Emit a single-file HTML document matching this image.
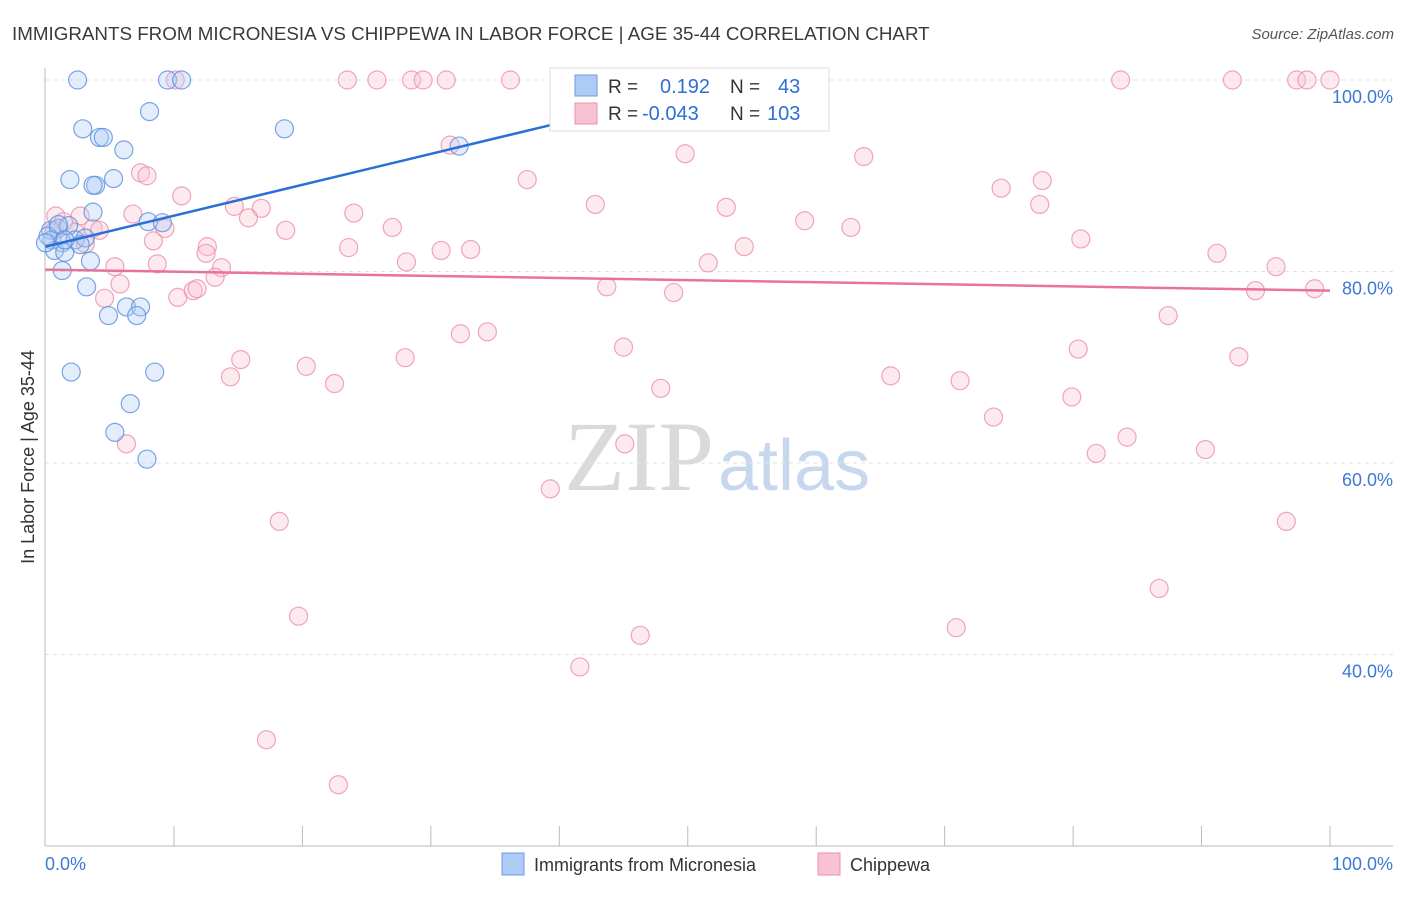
<!DOCTYPE html>
<html><head><meta charset="utf-8"><style>
body{margin:0;background:#fff;font-family:"Liberation Sans",sans-serif}
svg text{font-family:"Liberation Sans",sans-serif}
</style></head><body>
<svg id="chart" width="1406" height="892" xmlns="http://www.w3.org/2000/svg">
<text x="12" y="40" font-size="18.8" fill="#3a3a3a">IMMIGRANTS FROM MICRONESIA VS CHIPPEWA IN LABOR FORCE | AGE 35-44 CORRELATION CHART</text>
<text x="1394" y="39" font-size="15" fill="#555" text-anchor="end" font-style="italic">Source: ZipAtlas.com</text>
<g>
<text x="714" y="490" font-size="100" fill="#dadada" text-anchor="end" style="font-family:'Liberation Serif',serif">ZIP</text>
<text x="718" y="490" font-size="72" fill="#c7d8ee">atlas</text>
</g>
<g id="grid"></g>
<g id="axes"></g>
<g id="marks"></g>
<text transform="translate(34,457) rotate(-90)" font-size="18" fill="#333" text-anchor="middle">In Labor Force | Age 35-44</text>
<g>
<rect x="550" y="68" width="279" height="63" fill="#fff" stroke="#ddd"/>
<rect x="575" y="75" width="22" height="21" fill="#aecbf5" stroke="#6a9be0"/>
<text x="608" y="93" font-size="19" fill="#333">R =</text>
<text x="660" y="93" font-size="20" fill="#2d6fd4">0.192</text>
<text x="730" y="93" font-size="19" fill="#333">N =</text>
<text x="778" y="93" font-size="20" fill="#2d6fd4">43</text>
<rect x="575" y="103" width="22" height="21" fill="#f8c2d2" stroke="#ec8fab"/>
<text x="608" y="120" font-size="19" fill="#333">R =</text>
<text x="642" y="120" font-size="20" fill="#2d6fd4">-0.043</text>
<text x="730" y="120" font-size="19" fill="#333">N =</text>
<text x="767" y="120" font-size="20" fill="#2d6fd4">103</text>
</g>
<g>
<rect x="502" y="853" width="22" height="22" fill="#aecbf5" stroke="#6a9be0"/>
<text x="534" y="871" font-size="18" fill="#333">Immigrants from Micronesia</text>
<rect x="818" y="853" width="22" height="22" fill="#f8c2d2" stroke="#ec8fab"/>
<text x="850" y="871" font-size="18" fill="#333">Chippewa</text>
</g>
</svg>
<script>
const yTicks=[100,80,60,40];
const xTickLabels=["0.0%","100.0%"];
const blueX=[2.5,9.5,10.6,8.1,2.9,18.6,4.2,4.5,6.1,32.2,1.9,3.9,3.7,5.3,3.7,8.0,9.1,0.4,1.0,1.8,0.5,1.3,2.3,3.1,0.7,1.5,3.5,1.3,3.2,4.9,6.3,7.4,7.1,2.0,8.5,6.6,5.4,7.9,0.2,2.7,1.0,0,1.5];
const blueY=[100,100,100,96.7,94.9,94.9,94.0,94.0,92.7,93.1,89.6,89.0,89.0,89.7,86.2,85.2,85.1,84.3,84.5,84.8,83.3,83.0,83.3,83.5,82.2,82.0,81.1,80.1,78.4,75.4,76.3,76.3,75.4,69.5,69.5,66.2,63.2,60.4,83.7,82.8,84.9,83.0,83.3];
const pinkX=[10.1,23.5,25.8,28.5,29.4,31.2,36.2,49.4,83.7,92.4,97.4,98.2,100,45.6,55.8,31.5,49.8,63.7,37.5,74.4,77.6,7.4,7.9,10.6,42.8,53.0,77.4,14.7,16.8,15.8,24.0,6.8,0.8,2.7,59.1,62.7,18.7,27.0,9.3,3.7,0.7,2.3,8.4,80.6,23.6,30.8,33.1,54.4,12.6,12.5,91.2,5.4,8.7,28.1,51.6,13.7,13.2,5.8,95.8,4.6,10.3,11.5,11.8,43.7,48.9,94.2,98.8,87.4,32.3,34.4,45.0,80.4,15.2,28.0,92.9,20.3,14.4,22.5,65.8,71.2,47.9,79.9,73.8,84.2,45.1,81.8,90.3,6.3,39.3,18.2,96.6,86.7,19.7,46.3,70.9,41.6,17.2,22.8,1.4,3.1,4.2];
const pinkY=[100,100,100,100,100,100,100,100,100,100,100,100,100,97.1,95.6,93.2,92.3,92.0,89.6,88.7,89.5,90.3,90.0,87.9,87.0,86.7,87.0,86.8,86.6,85.6,86.1,86.0,85.8,85.8,85.3,84.6,84.3,84.6,84.5,84.5,84.3,84.1,83.2,83.4,82.5,82.2,82.3,82.6,82.6,81.9,81.9,80.5,80.8,81.0,80.9,80.4,79.4,78.7,80.5,77.2,77.3,78.0,78.2,78.4,77.8,78.0,78.2,75.4,73.5,73.7,72.1,71.9,70.8,71.0,71.1,70.1,69.0,68.3,69.1,68.6,67.8,66.9,64.8,62.7,62.0,61.0,61.4,62.0,57.3,53.9,53.9,46.9,44.0,42.0,42.8,38.7,31.1,26.4,85.2,82.9,84.3];
const blueTrend=[[0,82.6],[40.9,95.8]];
const pinkTrend=[[0,80.2],[100,78.0]];
const NS="http://www.w3.org/2000/svg";
const sx=v=>45.5+v*12.845;
const sy=v=>80+(100-v)*9.575;
function mk(tag,attrs,parent){const e=document.createElementNS(NS,tag);for(const k in attrs)e.setAttribute(k,attrs[k]);parent.appendChild(e);return e;}
const grid=document.getElementById('grid'),axes=document.getElementById('axes'),marks=document.getElementById('marks');
yTicks.forEach(t=>{
 const l=mk('line',{x1:45,x2:1393,y1:sy(t),y2:sy(t),stroke:'#e2e2e2','stroke-dasharray':'4,4'},grid);
 
 
 const tx=mk('text',{x:1393,y:sy(t)+23,'font-size':18,fill:'#3b78d8','text-anchor':'end'},axes);
 tx.textContent=t.toFixed(1)+'%';
 
 
});
const ax=mk('line',{x1:45,x2:45,y1:68,y2:846,stroke:'#bbb'},axes);


const bx=mk('line',{x1:45,x2:1393,y1:846,y2:846,stroke:'#bbb'},axes);


for(let i=1;i<=10;i++){const t=mk('line',{x1:sx(i*10),x2:sx(i*10),y1:826,y2:846,stroke:'#bbb'},axes);
 
 }
[[45,'start',0],[1393,'end',1]].forEach(([x,a,i])=>{const t=mk('text',{x:x,y:870,'font-size':18,fill:'#3b78d8','text-anchor':a},axes);t.textContent=xTickLabels[i];
 
 });
function dots(X,Y,fill,stroke,name){X.forEach((x,i)=>{const c=mk('circle',{cx:sx(x),cy:sy(Y[i]),r:9,fill:fill,'fill-opacity':0.35,stroke:stroke,'stroke-opacity':0.8,'stroke-width':1.2},marks);
 
 });}
dots(pinkX,pinkY,'#f8c2d2','#ec8fab','point-chippewa');
dots(blueX,blueY,'#aecbf5','#5b8fdc','point-micronesia');
const bl=mk('line',{x1:sx(blueTrend[0][0]),y1:sy(blueTrend[0][1]),x2:sx(blueTrend[1][0]),y2:sy(blueTrend[1][1]),stroke:'#2a6fd6','stroke-width':2.5},marks);


const pl=mk('line',{x1:sx(pinkTrend[0][0]),y1:sy(pinkTrend[0][1]),x2:sx(pinkTrend[1][0]),y2:sy(pinkTrend[1][1]),stroke:'#e8739a','stroke-width':2.5},marks);


</script>
</body></html>
